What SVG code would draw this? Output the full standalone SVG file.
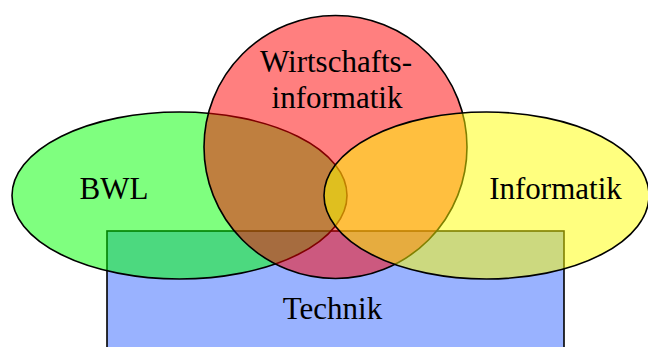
<svg xmlns="http://www.w3.org/2000/svg" width="648" height="347" viewBox="0 0 648 347">
  <style>
    .shape { stroke: #000; stroke-width: 1.6; fill-opacity: 0.5; }
    .label { font-family: "Liberation Serif", "Times New Roman", serif; font-size: 31px; fill: #000; text-anchor: middle; }
  </style>
  <rect width="648" height="347" fill="#fff"/>
  <g id="technik">
    <rect class="shape" x="107" y="231" width="457" height="130" fill="#3366ff"/>
  </g>
  <g id="bwl">
    <ellipse class="shape" cx="179.5" cy="195.5" rx="167.5" ry="83.5" fill="#00ff00"/>
  </g>
  <g id="wirtschaftsinformatik">
    <circle class="shape" cx="335.5" cy="147" r="131.5" fill="#ff0000"/>
  </g>
  <g id="informatik">
    <ellipse class="shape" cx="486.5" cy="195.5" rx="162.5" ry="83.5" fill="#ffff00"/>
  </g>
  <g id="labels">
    <text class="label" x="336" y="72">Wirtschafts-</text>
    <text class="label" x="337" y="108">informatik</text>
    <text class="label" x="114" y="199">BWL</text>
    <text class="label" x="555.5" y="199">Informatik</text>
    <text class="label" x="332.5" y="319">Technik</text>
  </g>
  <g id="connectors"></g>
</svg>
